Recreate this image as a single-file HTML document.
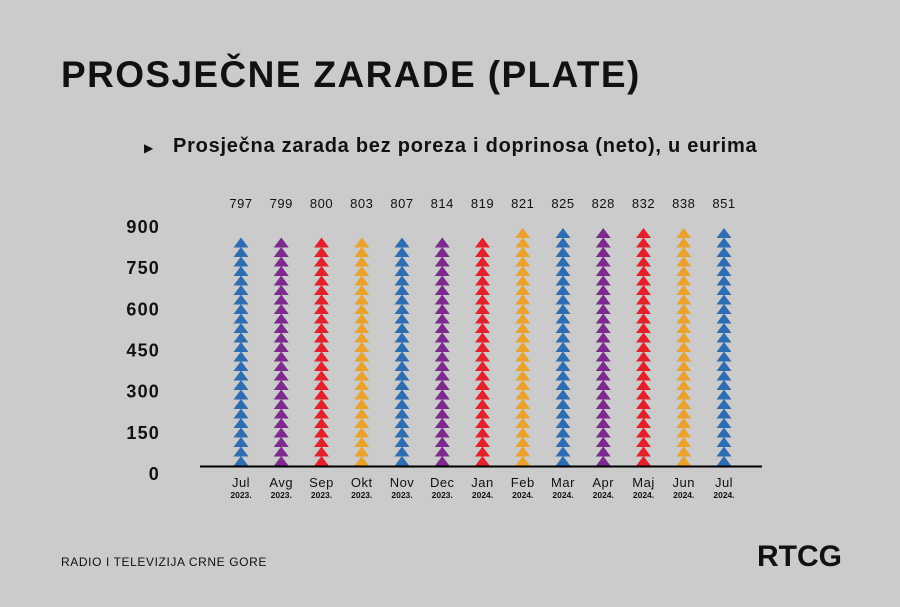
<!DOCTYPE html>
<html><head><meta charset="utf-8"><style>
body{margin:0;width:900px;height:607px;background:#cbcbcb;font-family:"Liberation Sans",sans-serif;overflow:hidden;position:relative}
.t{position:absolute;color:#111}
</style></head><body>
<div class="t" style="left:61px;top:54px;font-size:37px;font-weight:bold;letter-spacing:1.4px">PROSJEČNE ZARADE (PLATE)</div>
<div class="t" style="left:144px;top:141px;font-size:12px">▶</div>
<div class="t" style="left:173px;top:135px;font-size:20px;font-weight:bold;letter-spacing:0.75px">Prosječna zarada bez poreza i doprinosa (neto), u eurima</div>
<svg width="900" height="607" style="position:absolute;left:0;top:0" id="chart"></svg>
<div class="t" style="left:61px;top:555px;font-size:12px;letter-spacing:0.6px">RADIO I TELEVIZIJA CRNE GORE</div>
<div class="t" style="left:757px;top:540px;font-size:30px;font-weight:bold;letter-spacing:0px">RTCG</div>
<script>
const categories=["Jul","Avg","Sep","Okt","Nov","Dec","Jan","Feb","Mar","Apr","Maj","Jun","Jul"];
const years=["2023.","2023.","2023.","2023.","2023.","2023.","2024.","2024.","2024.","2024.","2024.","2024.","2024."];
const values=[797,799,800,803,807,814,819,821,825,828,832,838,851];
const colors=["#2f6db3","#7c2a8e","#e3212b","#eaa22d","#2f6db3","#7c2a8e","#e3212b","#eaa22d","#2f6db3","#7c2a8e","#e3212b","#eaa22d","#2f6db3"];
const yTicks=[0,150,300,450,600,750,900];
const svg=document.getElementById('chart');
const NS='http://www.w3.org/2000/svg';
const base=466,pxPer=247/900,pitch=9.5,unitPerTri=33.47;
const x=i=>241+i*40.25;
const y=v=>base-v*pxPer;
function mk(t,a){const e=document.createElementNS(NS,t);for(const k in a)e.setAttribute(k,a[k]);svg.appendChild(e);return e;}
yTicks.forEach(v=>{const e=mk('text',{x:160,y:y(v)+14,'text-anchor':'end','font-size':18,'font-weight':'bold','letter-spacing':1.2,fill:'#111'});e.textContent=v;

});
values.forEach((v,i)=>{
 const n=Math.round(v/unitPerTri);
 const g=mk('g',{});
 
 
 for(let k=0;k<n;k++){const b=base-k*pitch;const tr=document.createElementNS(NS,'polygon');
  tr.setAttribute('points',`${x(i)-7.5},${b} ${x(i)+7.5},${b} ${x(i)},${b-10}`);tr.setAttribute('fill',colors[i]);g.appendChild(tr);}
 const l=mk('text',{x:x(i),y:208,'text-anchor':'middle','font-size':13,'letter-spacing':0.5,fill:'#111'});l.textContent=v;
 
 
 const m=mk('text',{x:x(i),y:487,'text-anchor':'middle','font-size':13,'letter-spacing':0.5,fill:'#111'});m.textContent=categories[i];
 
 
 const yr=mk('text',{x:x(i),y:498,'text-anchor':'middle','font-size':8.5,'font-weight':'bold',fill:'#111'});yr.textContent=years[i];
 
 
});
const ax=mk('line',{x1:200,x2:762,y1:base+0.5,y2:base+0.5,stroke:'#000','stroke-width':2});


</script>
</body></html>
